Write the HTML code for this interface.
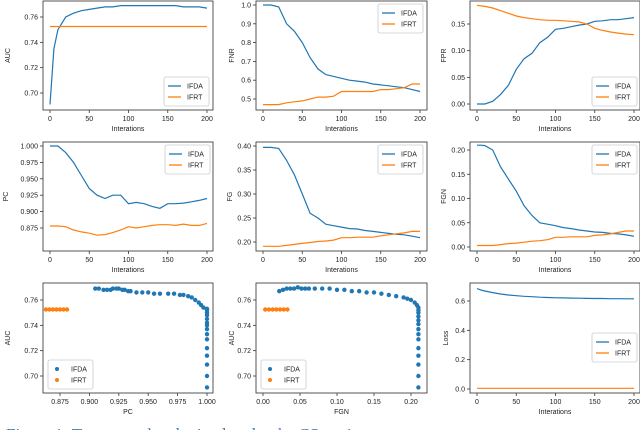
<!DOCTYPE html>
<html><head><meta charset="utf-8">
<style>
body{margin:0;background:#fff;width:640px;height:430px;overflow:hidden}
svg{display:block;font-family:"Liberation Sans","DejaVu Sans",sans-serif}
</style></head>
<body>
<svg id="fig" width="640" height="430" viewBox="0 0 640 430">
<text x="6" y="440" font-family="Liberation Serif,serif" font-size="17" fill="#3b74b8">Figure 1: Target results obtained under the CS setting</text>
</svg>
<script>
const iters = [0,5,10,20,30,40,50,60,70,80,90,100,110,120,130,140,150,160,170,180,190,200];
const aucIfda = [0.691,0.735,0.750,0.760,0.763,0.765,0.766,0.767,0.768,0.768,0.769,0.769,0.769,0.769,0.769,0.769,0.769,0.769,0.768,0.768,0.768,0.767];
const aucIfrt = [0.7525,0.7525,0.7525,0.7525,0.7525,0.7525,0.7525,0.7525,0.7525,0.7525,0.7525,0.7525,0.7525,0.7525,0.7525,0.7525,0.7525,0.7525,0.7525,0.7525,0.7525,0.7525];
const fnrIfda = [1.0,1.0,1.0,0.99,0.90,0.86,0.80,0.72,0.66,0.63,0.62,0.61,0.60,0.595,0.59,0.58,0.575,0.57,0.565,0.56,0.55,0.54];
const fnrIfrt = [0.47,0.47,0.47,0.47,0.48,0.485,0.49,0.50,0.51,0.51,0.515,0.54,0.54,0.54,0.54,0.54,0.55,0.55,0.555,0.56,0.58,0.58];
const fprIfda = [0,0,0,0.005,0.018,0.035,0.065,0.085,0.095,0.115,0.125,0.14,0.142,0.145,0.148,0.15,0.155,0.156,0.158,0.158,0.16,0.162];
const fprIfrt = [0.185,0.184,0.183,0.18,0.175,0.17,0.165,0.162,0.16,0.158,0.157,0.157,0.156,0.155,0.154,0.15,0.142,0.138,0.135,0.133,0.131,0.130];
const pcIfda = [1.0,1.0,1.0,0.99,0.975,0.955,0.935,0.925,0.92,0.925,0.925,0.912,0.914,0.912,0.908,0.905,0.912,0.912,0.913,0.915,0.917,0.92];
const pcIfrt = [0.878,0.878,0.878,0.877,0.872,0.869,0.867,0.864,0.865,0.868,0.872,0.877,0.875,0.877,0.879,0.88,0.88,0.879,0.881,0.879,0.879,0.882];
const fgIfda = [0.397,0.397,0.397,0.395,0.37,0.34,0.30,0.26,0.25,0.237,0.234,0.231,0.228,0.227,0.224,0.222,0.22,0.218,0.216,0.215,0.212,0.209];
const fgIfrt = [0.191,0.191,0.191,0.191,0.193,0.195,0.197,0.199,0.201,0.202,0.204,0.209,0.209,0.21,0.21,0.21,0.213,0.215,0.217,0.219,0.222,0.222];
const fgnIfda = [0.21,0.21,0.209,0.2,0.165,0.14,0.115,0.085,0.065,0.05,0.047,0.044,0.04,0.038,0.035,0.033,0.031,0.03,0.028,0.027,0.025,0.022];
const fgnIfrt = [0.003,0.003,0.003,0.003,0.005,0.007,0.008,0.01,0.012,0.013,0.015,0.02,0.02,0.021,0.021,0.021,0.024,0.025,0.027,0.03,0.033,0.033];
const lossIfda = [0.685,0.675,0.668,0.657,0.648,0.641,0.636,0.632,0.629,0.626,0.624,0.622,0.621,0.62,0.619,0.618,0.617,0.617,0.616,0.616,0.615,0.615];
const lossIfrt = [0.005,0.005,0.005,0.005,0.005,0.005,0.005,0.005,0.005,0.005,0.005,0.005,0.005,0.005,0.005,0.005,0.005,0.005,0.005,0.005,0.005,0.005];
const scPcIfda = [0.905,0.908,0.912,0.915,0.918,0.92,0.923,0.925,0.928,0.93,0.933,0.935,0.94,0.945,0.95,0.955,0.96,0.967,0.972,0.977,0.98,0.984,0.987,0.99,0.993,0.995,0.997,1,1,1,1,1,1,1,1,1,1,1,1,1,1,1];
const scAucIfda = [0.769,0.769,0.768,0.768,0.768,0.769,0.769,0.769,0.768,0.768,0.767,0.767,0.766,0.766,0.766,0.765,0.765,0.765,0.765,0.764,0.764,0.763,0.762,0.76,0.758,0.756,0.754,0.753,0.752,0.75,0.748,0.745,0.742,0.74,0.737,0.733,0.729,0.722,0.716,0.709,0.7,0.691];
const scPcIfrt = [0.863,0.866,0.869,0.872,0.875,0.878,0.881];
const scAucIfrt = [0.7525,0.7525,0.7525,0.7525,0.7525,0.7525,0.7525];
const scFgnIfda = [0.022,0.027,0.032,0.037,0.042,0.047,0.052,0.057,0.062,0.07,0.08,0.09,0.1,0.11,0.12,0.13,0.14,0.15,0.16,0.17,0.18,0.19,0.195,0.2,0.205,0.208,0.21,0.21,0.21,0.21,0.21,0.21,0.21,0.21,0.21,0.21,0.21,0.21,0.21,0.21];
const scAucFgn = [0.767,0.768,0.769,0.769,0.769,0.77,0.769,0.769,0.769,0.769,0.769,0.769,0.768,0.768,0.767,0.767,0.766,0.766,0.765,0.764,0.763,0.762,0.761,0.76,0.758,0.756,0.754,0.752,0.75,0.747,0.744,0.741,0.737,0.733,0.729,0.722,0.716,0.709,0.7,0.691];
const scFgnIfrt = [0.003,0.008,0.013,0.018,0.023,0.028,0.033];
const iterTicks = [0,50,100,150,200];

const NS='http://www.w3.org/2000/svg';
const svg=document.getElementById('fig');
const BLUE='#1f77b4', ORANGE='#ff7f0e';
function mk(tag,attrs,parent){const e=document.createElementNS(NS,tag);for(const k in attrs)e.setAttribute(k,attrs[k]);(parent||svg).appendChild(e);return e;}
function lin(d0,d1,r0,r1){return v=>r0+(v-d0)*(r1-r0)/(d1-d0);}

function panel(cfg){
  const g=mk('g',{});
  
  
  const {x0,x1,y0,y1}=cfg;
  const sx=lin(cfg.xd[0],cfg.xd[1],cfg.xr[0],cfg.xr[1]);
  const sy=lin(cfg.yd[0],cfg.yd[1],cfg.yr[0],cfg.yr[1]);
  // ticks
  cfg.xt.forEach((t,i)=>{const x=sx(t);
    mk('line',{x1:x,x2:x,y1:y1,y2:y1+3,stroke:'#333','stroke-width':0.8},g);
    const tx=mk('text',{x:x,y:y1+11,'font-size':7,'text-anchor':'middle',fill:'#222'},g);tx.textContent=cfg.xtl[i];
    
    });
  cfg.yt.forEach((t,i)=>{const y=sy(t);
    mk('line',{x1:x0-3,x2:x0,y1:y,y2:y,stroke:'#333','stroke-width':0.8},g);
    const tx=mk('text',{x:x0-5,y:y+2.5,'font-size':7,'text-anchor':'end',fill:'#222'},g);tx.textContent=cfg.ytl[i];
    
    });
  // clip
  const cid='c'+cfg.name;
  const cp=mk('clipPath',{id:cid},g);mk('rect',{x:x0,y:y0,width:x1-x0,height:y1-y0},cp);
  const pg=mk('g',{'clip-path':'url(#'+cid+')'},g);
  cfg.series.forEach(s=>{
    if(s.type==='line'){
      const pts=s.x.map((v,i)=>sx(v).toFixed(1)+','+sy(s.y[i]).toFixed(1)).join(' ');
      const pl=mk('polyline',{points:pts,fill:'none',stroke:s.c,'stroke-width':1.2},pg);
      
      
    } else {
      s.x.forEach((v,i)=>{const c=mk('circle',{cx:sx(v),cy:sy(s.y[i]),r:2.2,fill:s.c},pg);
        
        });
    }
  });
  mk('rect',{x:x0,y:y0,width:x1-x0,height:y1-y0,fill:'none',stroke:'#444','stroke-width':0.9},g);
  // labels
  if(cfg.xl){const t=mk('text',{x:(x0+x1)/2,y:y1+21,'font-size':7,'text-anchor':'middle',fill:'#222'},g);t.textContent=cfg.xl;
    
    }
  const yl=mk('text',{x:0,y:0,'font-size':7,'text-anchor':'middle',fill:'#222',transform:`translate(${cfg.ylx},${(y0+y1)/2}) rotate(-90)`},g);yl.textContent=cfg.yl;
  
  
  // legend
  const L=cfg.leg;const lg=mk('g',{},g);
  
  
  mk('rect',{x:L[0],y:L[1],width:45,height:29,rx:2,fill:'#fff','fill-opacity':0.85,stroke:'#ccc','stroke-width':0.8},lg);
  [['IFDA',BLUE],['IFRT',ORANGE]].forEach((e,i)=>{const yy=L[1]+9+i*11;
    if(cfg.scatterLeg) mk('circle',{cx:L[0]+9,cy:yy,r:2,fill:e[1]},lg);
    else mk('line',{x1:L[0]+4,x2:L[0]+17,y1:yy,y2:yy,stroke:e[1],'stroke-width':1.3},lg);
    const t=mk('text',{x:L[0]+23,y:yy+2.5,'font-size':7,fill:'#222'},lg);t.textContent=e[0];
    
    });
}
const it=iterTicks, itl=iterTicks.map(String);
const C=[[43,213,50,207],[256,427,263,420],[470,640,477,634]];
const R=[[1,110],[142,251],[283,393]];
function L(a,b,n1,n2){return [{type:'line',x:iters,y:a,c:BLUE,n:n1},{type:'line',x:iters,y:b,c:ORANGE,n:n2}];}

panel({name:'auc-panel',x0:C[0][0],x1:C[0][1],y0:R[0][0],y1:R[0][1],xd:[0,200],xr:[C[0][2],C[0][3]],yd:[0.70,0.76],yr:[93,17],
 xt:it,xtl:itl,yt:[0.70,0.72,0.74,0.76],ytl:['0.70','0.72','0.74','0.76'],xl:'Interations',yl:'AUC',ylx:10,leg:[164,77],
 series:L(aucIfda,aucIfrt,'auc-ifda-line','auc-ifrt-line')});
panel({name:'fnr-panel',x0:C[1][0],x1:C[1][1],y0:R[0][0],y1:R[0][1],xd:[0,200],xr:[C[1][2],C[1][3]],yd:[0.5,1.0],yr:[99,5],
 xt:it,xtl:itl,yt:[0.5,0.6,0.7,0.8,0.9,1.0],ytl:['0.5','0.6','0.7','0.8','0.9','1.0'],xl:'Interations',yl:'FNR',ylx:234,leg:[378,4],
 series:L(fnrIfda,fnrIfrt,'fnr-ifda-line','fnr-ifrt-line')});
panel({name:'fpr-panel',x0:C[2][0],x1:C[2][1],y0:R[0][0],y1:R[0][1],xd:[0,200],xr:[C[2][2],C[2][3]],yd:[0,0.15],yr:[104,24],
 xt:it,xtl:itl,yt:[0,0.05,0.10,0.15],ytl:['0.00','0.05','0.10','0.15'],xl:'Interations',yl:'FPR',ylx:446,leg:[592,77],
 series:L(fprIfda,fprIfrt,'fpr-ifda-line','fpr-ifrt-line')});
panel({name:'pc-panel',x0:C[0][0],x1:C[0][1],y0:R[1][0],y1:R[1][1],xd:[0,200],xr:[C[0][2],C[0][3]],yd:[0.875,1.0],yr:[228,146],
 xt:it,xtl:itl,yt:[0.875,0.9,0.925,0.95,0.975,1.0],ytl:['0.875','0.900','0.925','0.950','0.975','1.000'],xl:'Interations',yl:'PC',ylx:8,leg:[165,145],
 series:L(pcIfda,pcIfrt,'pc-ifda-line','pc-ifrt-line')});
panel({name:'fg-panel',x0:C[1][0],x1:C[1][1],y0:R[1][0],y1:R[1][1],xd:[0,200],xr:[C[1][2],C[1][3]],yd:[0.2,0.4],yr:[242,146],
 xt:it,xtl:itl,yt:[0.2,0.25,0.3,0.35,0.4],ytl:['0.20','0.25','0.30','0.35','0.40'],xl:'Interations',yl:'FG',ylx:232,leg:[378,145],
 series:L(fgIfda,fgIfrt,'fg-ifda-line','fg-ifrt-line')});
panel({name:'fgn-panel',x0:C[2][0],x1:C[2][1],y0:R[1][0],y1:R[1][1],xd:[0,200],xr:[C[2][2],C[2][3]],yd:[0,0.2],yr:[247,150],
 xt:it,xtl:itl,yt:[0,0.05,0.10,0.15,0.20],ytl:['0.00','0.05','0.10','0.15','0.20'],xl:'Interations',yl:'FGN',ylx:446,leg:[592,145],
 series:L(fgnIfda,fgnIfrt,'fgn-ifda-line','fgn-ifrt-line')});
panel({name:'auc-vs-pc-panel',x0:C[0][0],x1:C[0][1],y0:R[2][0],y1:R[2][1],xd:[0.875,1.0],xr:[60,207],yd:[0.70,0.76],yr:[376,300],
 xt:[0.875,0.9,0.925,0.95,0.975,1.0],xtl:['0.875','0.900','0.925','0.950','0.975','1.000'],yt:[0.70,0.72,0.74,0.76],ytl:['0.70','0.72','0.74','0.76'],xl:'PC',yl:'AUC',ylx:10,leg:[48,360],scatterLeg:true,
 series:[{type:'pt',x:scPcIfda,y:scAucIfda,c:BLUE,n:'ifda-point'},{type:'pt',x:scPcIfrt,y:scAucIfrt,c:ORANGE,n:'ifrt-point'}]});
panel({name:'auc-vs-fgn-panel',x0:C[1][0],x1:C[1][1],y0:R[2][0],y1:R[2][1],xd:[0,0.2],xr:[263,411],yd:[0.70,0.76],yr:[376,300],
 xt:[0,0.05,0.1,0.15,0.2],xtl:['0.00','0.05','0.10','0.15','0.20'],yt:[0.70,0.72,0.74,0.76],ytl:['0.70','0.72','0.74','0.76'],xl:'FGN',yl:'AUC',ylx:234,leg:[261,360],scatterLeg:true,
 series:[{type:'pt',x:scFgnIfda,y:scAucFgn,c:BLUE,n:'ifda-point'},{type:'pt',x:scFgnIfrt,y:scAucIfrt,c:ORANGE,n:'ifrt-point'}]});
panel({name:'loss-panel',x0:C[2][0],x1:C[2][1],y0:R[2][0],y1:R[2][1],xd:[0,200],xr:[C[2][2],C[2][3]],yd:[0,0.6],yr:[389,301],
 xt:it,xtl:itl,yt:[0,0.2,0.4,0.6],ytl:['0.0','0.2','0.4','0.6'],xl:'Interations',yl:'Loss',ylx:448,leg:[592,333],
 series:L(lossIfda,lossIfrt,'loss-ifda-line','loss-ifrt-line')});
</script>
</body></html>
